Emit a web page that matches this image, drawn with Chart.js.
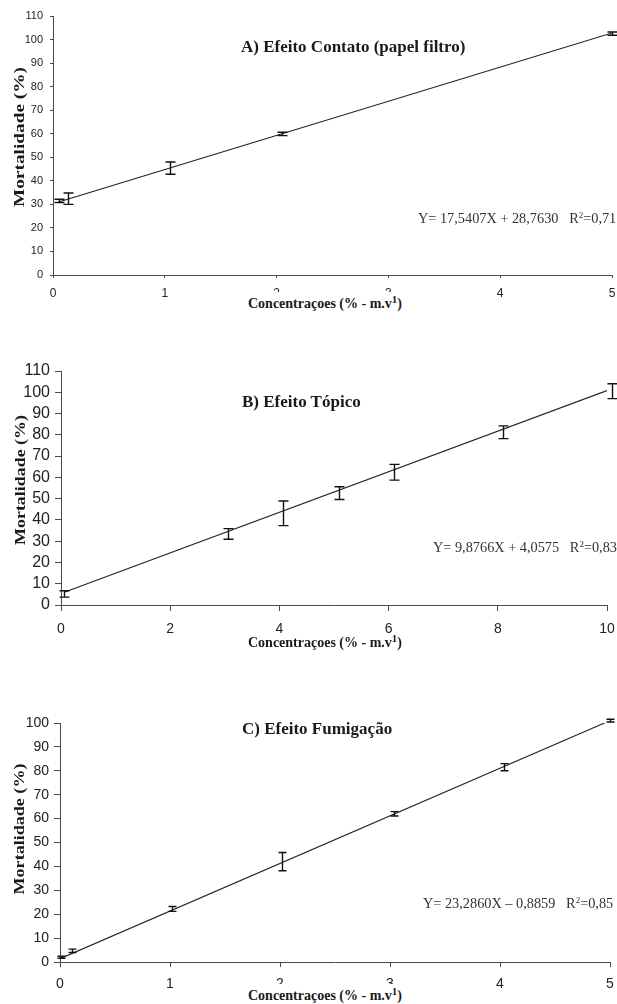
<!DOCTYPE html>
<html lang="pt">
<head>
<meta charset="utf-8">
<title>Mortalidade - efeitos</title>
<script src="https://cdn.jsdelivr.net/npm/chart.js@4.4.0/dist/chart.umd.min.js"></script>
<style>
  html, body { margin: 0; padding: 0; background: #fff; }
  #page { position: relative; width: 617px; height: 1004px; overflow: hidden; }
  .panel { position: absolute; left: 0; width: 617px; height: 300px; }
  .txt { position: absolute; white-space: nowrap; line-height: 1; color: #1a1a1a; }
  .ptitle { font: bold 17px "Liberation Serif", serif; transform: translateY(-50%); }
  .eq { font: 14.3px "Liberation Serif", serif; transform: translateY(-50%); color: #333; }
  .eq sup { font-size: 9px; vertical-align: 5px; line-height: 0; }
  .xt { font: bold 14px "Liberation Serif", serif; transform: translate(-50%, -50%); padding: 4px 14px; }
  .xt sup { font-size: 11px; vertical-align: 5px; line-height: 0; }
  .xt.box { background: #fff; }
  .yt { font: bold 14px "Liberation Serif", serif; }
</style>
</head>
<body>
<div id="page">
  <div class="panel" style="top:0"><canvas id="chartA" width="617" height="300"></canvas></div>
  <div class="panel" style="top:340px"><canvas id="chartB" width="617" height="300"></canvas></div>
  <div class="panel" style="top:700px"><canvas id="chartC" width="617" height="300"></canvas></div>

  <div class="txt ptitle" style="left:241px; top:47px">A) Efeito Contato (papel filtro)</div>
  <div class="txt eq" style="left:418px; top:218px">Y= 17,5407X + 28,7630&nbsp;&nbsp; R<sup>2</sup>=0,71</div>
  <div class="txt xt box" style="left:325px; top:304px">Concentraçoes (% - m.v<sup>1</sup>)</div>
  <div class="txt yt" style="left:20px; top:137px; transform: translate(-50%,-50%) rotate(-90deg) scaleX(1.38)">Mortalidade (%)</div>

  <div class="txt ptitle" style="left:242px; top:402px">B) Efeito Tópico</div>
  <div class="txt eq" style="left:433px; top:547px">Y= 9,8766X + 4,0575&nbsp;&nbsp; R<sup>2</sup>=0,83</div>
  <div class="txt xt" style="left:325px; top:643px">Concentraçoes (% - m.v<sup>1</sup>)</div>
  <div class="txt yt" style="left:21px; top:480px; transform: translate(-50%,-50%) rotate(-90deg) scaleX(1.28)">Mortalidade (%)</div>

  <div class="txt ptitle" style="left:242px; top:729px">C) Efeito Fumigação</div>
  <div class="txt eq" style="left:423px; top:903px">Y= 23,2860X – 0,8859&nbsp;&nbsp; R<sup>2</sup>=0,85</div>
  <div class="txt xt box" style="left:325px; top:996px">Concentraçoes (% - m.v<sup>1</sup>)</div>
  <div class="txt yt" style="left:20px; top:829px; transform: translate(-50%,-50%) rotate(-90deg) scaleX(1.29)">Mortalidade (%)</div>
</div>

<script>
// A) Efeito Contato (papel filtro)
const concA = [0.05, 0.13, 1.05, 2.05, 5];
const mortA = [31.5, 32.4, 45.4, 59.9, 102.5];
const errA = [0.7, 2.4, 2.6, 0.7, 0.7];
const trendXA = [0.05, 5];
const trendYA = [31.0, 102.8];
const xTicksA = [0, 1, 2, 3, 4, 5];
const yTicksA = [0, 10, 20, 30, 40, 50, 60, 70, 80, 90, 100, 110];

// B) Efeito Tópico
const concB = [0.06, 3.06, 4.07, 5.09, 6.1, 8.1, 10.1];
const mortB = [5.2, 33.4, 43.1, 52.6, 62.4, 81.2, 100.5];
const errB = [1.5, 2.5, 5.8, 3.0, 3.7, 3.0, 3.5];
const trendXB = [0.06, 10];
const trendYB = [6.0, 100.8];
const xTicksB = [0, 2, 4, 6, 8, 10];
const yTicksB = [0, 10, 20, 30, 40, 50, 60, 70, 80, 90, 100, 110];

// C) Efeito Fumigação
const concC = [0.01, 0.11, 1.02, 2.02, 3.04, 4.04, 5];
const mortC = [2.0, 4.7, 22.2, 42.0, 62.0, 81.5, 101.0];
const errC = [0.4, 0.7, 1.0, 3.8, 0.9, 1.5, 0.6];
const trendXC = [0, 5];
const trendYC = [1.4, 101.0];
const xTicksC = [0, 1, 2, 3, 4, 5];
const yTicksC = [0, 10, 20, 30, 40, 50, 60, 70, 80, 90, 100];

const AXIS = '#4a4a4a';
const INK = '#111';

// barras de erro (media +- desvio), desenhadas pelas escalas do grafico
const errorBars = {
    id: 'errorBars',
    afterDatasetsDraw(chart, args, opts) {
        const { ctx, scales: { x, y } } = chart;
        const pts = chart.data.datasets[0].data;
        ctx.save();
        ctx.strokeStyle = INK;
        ctx.lineWidth = 1.4;
        pts.forEach((p, i) => {
            const px = Math.round(x.getPixelForValue(p.x)) + 0.5;
            const top = y.getPixelForValue(p.y + opts.err[i]);
            const bot = y.getPixelForValue(p.y - opts.err[i]);
            ctx.beginPath();
            ctx.moveTo(px, top);
            ctx.lineTo(px, bot);
            ctx.moveTo(px - opts.cap, top);
            ctx.lineTo(px + opts.cap, top);
            ctx.moveTo(px - opts.cap, bot);
            ctx.lineTo(px + opts.cap, bot);
            ctx.stroke();
        });
        ctx.restore();
    }
};

function toPoints(xs, ys) {
    return xs.map((v, i) => ({ x: v, y: ys[i] }));
}

function makeChart(id, d) {
    return new Chart(document.getElementById(id), {
        type: 'scatter',
        data: {
            datasets: [
                { data: toPoints(d.x, d.y), pointRadius: 0, showLine: false },
                {
                    type: 'line',
                    data: toPoints(d.tx, d.ty),
                    borderColor: '#222',
                    borderWidth: 1.1,
                    pointRadius: 0,
                    fill: false
                }
            ]
        },
        options: {
            responsive: false,
            animation: false,
            layout: { padding: d.pad },
            plugins: {
                legend: { display: false },
                tooltip: { enabled: false },
                errorBars: { err: d.err, cap: d.cap }
            },
            scales: {
                x: {
                    type: 'linear',
                    min: 0,
                    max: d.xMax,
                    afterBuildTicks: s => { s.ticks = d.xTicks.map(v => ({ value: v })); },
                    afterFit: s => { s.height = d.xh; s.paddingLeft = 0; s.paddingRight = 0; },
                    grid: { drawOnChartArea: false, tickLength: d.xtl, color: AXIS },
                    border: { color: AXIS, width: 1 },
                    ticks: {
                        color: '#222',
                        padding: d.xpad,
                        maxRotation: 0,
                        autoSkip: false,
                        font: { family: 'Liberation Sans', size: d.xfs }
                    }
                },
                y: {
                    type: 'linear',
                    min: 0,
                    max: d.yMax,
                    afterBuildTicks: s => { s.ticks = d.yTicks.map(v => ({ value: v })); },
                    afterFit: s => { s.width = d.yw; s.paddingTop = 0; s.paddingBottom = 0; },
                    grid: { drawOnChartArea: false, tickLength: d.ytl, color: AXIS },
                    border: { color: AXIS, width: 1 },
                    ticks: {
                        color: '#222',
                        padding: d.ypad,
                        autoSkip: false,
                        font: { family: 'Liberation Sans', size: d.yfs }
                    }
                }
            }
        },
        plugins: [errorBars]
    });
}

document.addEventListener('DOMContentLoaded', () => {
    makeChart('chartA', {
        x: concA, y: mortA, err: errA, tx: trendXA, ty: trendYA,
        xTicks: xTicksA, yTicks: yTicksA, xMax: 5, yMax: 110,
        pad: { top: 16, right: 5, left: 0, bottom: 0 },
        yw: 53, xh: 25, xtl: 3, ytl: 3, xpad: 8, ypad: 7, xfs: 12, yfs: 11, cap: 5
    });
    makeChart('chartB', {
        x: concB, y: mortB, err: errB, tx: trendXB, ty: trendYB,
        xTicks: xTicksB, yTicks: yTicksB, xMax: 10, yMax: 110,
        pad: { top: 31, right: 10, left: 0, bottom: 0 },
        yw: 61, xh: 35, xtl: 6, ytl: 6, xpad: 10, ypad: 5, xfs: 14, yfs: 16, cap: 5
    });
    makeChart('chartC', {
        x: concC, y: mortC, err: errC, tx: trendXC, ty: trendYC,
        xTicks: xTicksC, yTicks: yTicksC, xMax: 5, yMax: 100,
        pad: { top: 23, right: 7, left: 0, bottom: 0 },
        yw: 60, xh: 38, xtl: 5, ytl: 6, xpad: 9, ypad: 5, xfs: 14, yfs: 14, cap: 4
    });
});
</script>
</body>
</html>
